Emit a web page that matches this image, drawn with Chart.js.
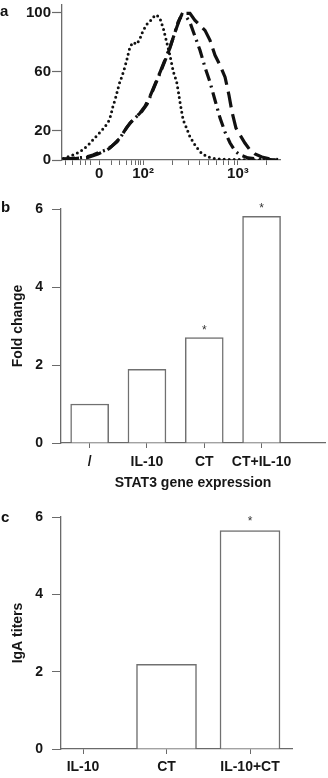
<!DOCTYPE html>
<html><head><meta charset="utf-8">
<script src="https://cdn.jsdelivr.net/npm/chart.js@4/dist/chart.umd.min.js"></script>
<style>
html,body{margin:0;padding:0;background:#fff;width:328px;height:778px;overflow:hidden;}
.wrap{position:absolute;left:0;width:328px;}
canvas{display:block;}
.lbl{position:absolute;font:bold 15px/15px "Liberation Sans",Arial,sans-serif;color:#111;}
</style></head><body>
<div class="wrap" style="top:0;height:190px"><canvas id="ca" width="328" height="190"></canvas></div>
<div class="wrap" style="top:190px;height:300px"><canvas id="cb" width="328" height="300"></canvas></div>
<div class="wrap" style="top:490px;height:288px"><canvas id="cc" width="328" height="288"></canvas></div>
<div class="lbl" style="left:0px;top:3px">a</div>
<div class="lbl" style="left:1px;top:199px">b</div>
<div class="lbl" style="left:1px;top:509px">c</div>
<script>
// ---------- Panel a: flow cytometry histograms ----------
const xMajorTicks = [170, 372, 807];
const xMajorLabels = ['0', '10²', '10³'];
const xMinorTicks = [18, 50, 83, 110, 133, 229, 266, 294, 317, 335, 349, 362, 505, 578, 633, 674, 711, 739, 766, 789, 940];
const yTicksA = [0, 20, 60, 100];

const dottedX = [6,29,60,83,106,128,151,174,197,217,225,235,243,251,263,274,284,297,304,312,326,343,358,366,381,396,408,419,434,450,465,480,495,503,511,526,534,541,549,556,572,587,610,633,664,710,771,817,908,991];
const dottedY = [1.1,2.2,3.9,5.6,8.3,11.3,15.1,18.7,22.5,27,31,37.2,40.5,45,51.8,56.3,60.8,67.6,72,76.6,79.7,78.4,82.2,85.6,90,93.4,94.6,96.8,98.4,95.7,89,80,71,65.3,59.7,52.9,46.1,39.4,32.6,27,21.4,15.7,10.1,5.6,2.2,0.7,0.3,0.3,0,0];

const dashDotX = [5,37,73,110,142,174,202,229,252,275,298,321,344,367,390,413,436,459,477,495,514,532,550,569,587,610,633,656,679,702,725,748,771,794,817,853,899,954,991];
const dashDotY = [0.7,1,1.4,2,3.4,5.4,6.8,9.5,12.2,16.9,22.3,26.4,29.7,33.1,37.8,45.9,54,62.2,68.9,76.4,84.5,93.2,98.6,97.3,93.2,83.8,74.3,62.8,52.7,40.5,28.4,18.9,11.5,6.1,3.4,1.4,0.7,0.3,0];

const longDashX = [5,60,119,165,197,220,243,266,289,312,335,358,381,404,427,450,472,495,518,541,564,587,610,633,656,679,702,725,748,766,780,798,817,839,862,885,917,954,991];
const longDashY = [0.3,1,1.7,4.1,6.1,8.1,11.5,14.9,20.3,25,28.4,31.8,36.5,43.2,51.4,59.5,67.6,75.7,86.5,95.9,99.3,99.3,94.6,91.2,87.8,81.1,70.9,64.2,56.1,43.9,32.4,21.6,16.9,11.5,6.8,4.1,2,0.7,0.3];

// ---------- Panel b: STAT3 gene expression ----------
const categoriesB = ['/', 'IL-10', 'CT', 'CT+IL-10'];
const foldChange = [1.0, 1.89, 2.70, 5.81];
const signifB = ['', '', '*', '*'];
const yTicksB = [0, 2, 4, 6];

// ---------- Panel c: IgA titers ----------
const categoriesC = ['IL-10', 'CT', 'IL-10+CT'];
const igaTiters = [0, 2.19, 5.65];
const signifC = ['', '', '*'];
const yTicksC = [0, 2, 4, 6];

const FONT = '"Liberation Sans", Arial, Helvetica, sans-serif';
const AX = '#6a6a6a';
const TXT = '#161616';

function fixSize(w, h) {
  return function (s) {
    if (w != null) s.width = w;
    if (h != null) s.height = h;
    s.paddingTop = 0; s.paddingBottom = 0; s.paddingLeft = 0; s.paddingRight = 0;
  };
}
function pts(xs, ys) { return xs.map((x, i) => ({ x: x, y: ys[i] })); }

const starPlugin = {
  id: 'stars',
  afterDatasetsDraw(chart, args, opts) {
    const meta = chart.getDatasetMeta(0);
    const ctx = chart.ctx;
    ctx.save();
    ctx.fillStyle = '#333';
    ctx.font = '12px ' + FONT;
    ctx.textAlign = 'center';
    ctx.textBaseline = 'alphabetic';
    opts.marks.forEach((m, i) => {
      if (m) { const el = meta.data[i]; ctx.fillText(m, el.x, el.y - opts.gap); }
    });
    ctx.restore();
  }
};

Chart.defaults.font.family = FONT;
Chart.defaults.color = TXT;

// Panel a
new Chart(document.getElementById('ca'), {
  type: 'scatter',
  data: {
    datasets: [
      { data: pts(dottedX, dottedY), showLine: true, pointRadius: 0, borderColor: '#111', borderWidth: 3,
        borderDash: [0, 5], borderCapStyle: 'round', fill: false },
      { data: pts(dashDotX, dashDotY), showLine: true, pointRadius: 0, borderColor: '#111', borderWidth: 3.2,
        borderDash: [12, 5, 2, 5], borderCapStyle: 'butt', fill: false },
      { data: pts(longDashX, longDashY), showLine: true, pointRadius: 0, borderColor: '#111', borderWidth: 3.2,
        borderDash: [16, 7], borderCapStyle: 'butt', fill: false }
    ]
  },
  options: {
    responsive: false, animation: false, devicePixelRatio: 1,
    layout: { padding: { left: 0, top: 5, right: 48, bottom: 0 } },
    plugins: { legend: { display: false }, tooltip: { enabled: false } },
    scales: {
      x: {
        type: 'linear', min: 0, max: 1000,
        afterBuildTicks: s => { s.ticks = xMajorTicks.concat(xMinorTicks).sort((a, b) => a - b).map(v => ({ value: v })); },
        ticks: { autoSkip: false, maxRotation: 0, padding: 0,
          callback: v => { const k = xMajorTicks.indexOf(v); return k >= 0 ? xMajorLabels[k] : ''; },
          font: { size: 15, weight: 'bold' } },
        grid: { drawOnChartArea: false, drawTicks: true, tickLength: 5, color: AX, tickWidth: 1 },
        border: { display: true, color: AX, width: 1.3 },
        afterFit: fixSize(null, 30)
      },
      y: {
        min: 0, max: 105,
        afterBuildTicks: s => { s.ticks = yTicksA.map(v => ({ value: v })); },
        ticks: { padding: 1, font: { size: 15, weight: 'bold' } },
        grid: { drawOnChartArea: false, drawTicks: true, tickLength: 10, color: AX, tickWidth: 1.2 },
        border: { display: true, color: AX, width: 1.3 },
        afterFit: fixSize(62, null)
      }
    }
  }
});

// Panel b
new Chart(document.getElementById('cb'), {
  type: 'bar',
  data: { datasets: [{ data: pts(categoriesB.map((c, i) => i + 1), foldChange), backgroundColor: '#fff',
    borderColor: '#707070', borderWidth: 1.5, barThickness: 38, borderSkipped: 'start' }] },
  options: {
    responsive: false, animation: false, devicePixelRatio: 1,
    layout: { padding: { left: 0, top: 19, right: 3, bottom: 0 } },
    plugins: { legend: { display: false }, tooltip: { enabled: false }, stars: { marks: signifB, gap: 4 } },
    scales: {
      x: {
        type: 'linear', min: 0.5, max: 5.107, offset: false,
        afterBuildTicks: s => { s.ticks = categoriesB.map((c, i) => ({ value: i + 1 })); },
        ticks: { autoSkip: false, maxRotation: 0, padding: 6, callback: v => categoriesB[v - 1] || '',
          font: { size: 14, weight: 'bold' } },
        grid: { offset: false, drawOnChartArea: false, drawTicks: true, tickLength: 5, color: AX },
        border: { display: true, color: AX, width: 1.3 },
        title: { display: true, text: 'STAT3 gene expression', font: { size: 14, weight: 'bold', lineHeight: 1 }, padding: 0, color: TXT },
        afterFit: fixSize(null, 47)
      },
      y: {
        min: 0, max: 6,
        afterBuildTicks: s => { s.ticks = yTicksB.map(v => ({ value: v })); },
        ticks: { padding: 9, font: { size: 14, weight: 'bold' } },
        grid: { drawOnChartArea: false, drawTicks: true, tickLength: 9, color: AX },
        border: { display: true, color: AX, width: 1.3 },
        title: { display: true, text: 'Fold change', font: { size: 14, weight: 'bold', lineHeight: 1.2 }, padding: { top: 10, bottom: 0 }, color: TXT },
        afterFit: fixSize(61, null)
      }
    }
  },
  plugins: [starPlugin]
});

// Panel c
new Chart(document.getElementById('cc'), {
  type: 'bar',
  data: { datasets: [{ data: pts(categoriesC.map((c, i) => i + 1), igaTiters), backgroundColor: '#fff',
    borderColor: '#707070', borderWidth: 1.5, barThickness: 60, borderSkipped: 'start' }] },
  options: {
    responsive: false, animation: false, devicePixelRatio: 1,
    layout: { padding: { left: 0, top: 27, right: 36, bottom: 0 } },
    plugins: { legend: { display: false }, tooltip: { enabled: false }, stars: { marks: signifC, gap: 6 } },
    scales: {
      x: {
        type: 'linear', min: 0.7365, max: 3.503, offset: false,
        afterBuildTicks: s => { s.ticks = categoriesC.map((c, i) => ({ value: i + 1 })); },
        ticks: { autoSkip: false, maxRotation: 0, padding: 5, callback: v => categoriesC[v - 1] || '',
          font: { size: 14, weight: 'bold' } },
        grid: { offset: false, drawOnChartArea: false, drawTicks: true, tickLength: 5, color: AX },
        border: { display: true, color: AX, width: 1.3 },
        afterFit: fixSize(null, 29)
      },
      y: {
        min: 0, max: 6,
        afterBuildTicks: s => { s.ticks = yTicksC.map(v => ({ value: v })); },
        ticks: { padding: 9, font: { size: 14, weight: 'bold' } },
        grid: { drawOnChartArea: false, drawTicks: true, tickLength: 9, color: AX },
        border: { display: true, color: AX, width: 1.3 },
        title: { display: true, text: 'IgA titers', font: { size: 14, weight: 'bold', lineHeight: 1.2 }, padding: { top: 10, bottom: 0 }, color: TXT },
        afterFit: fixSize(61, null)
      }
    }
  },
  plugins: [starPlugin]
});
</script>
</body></html>
